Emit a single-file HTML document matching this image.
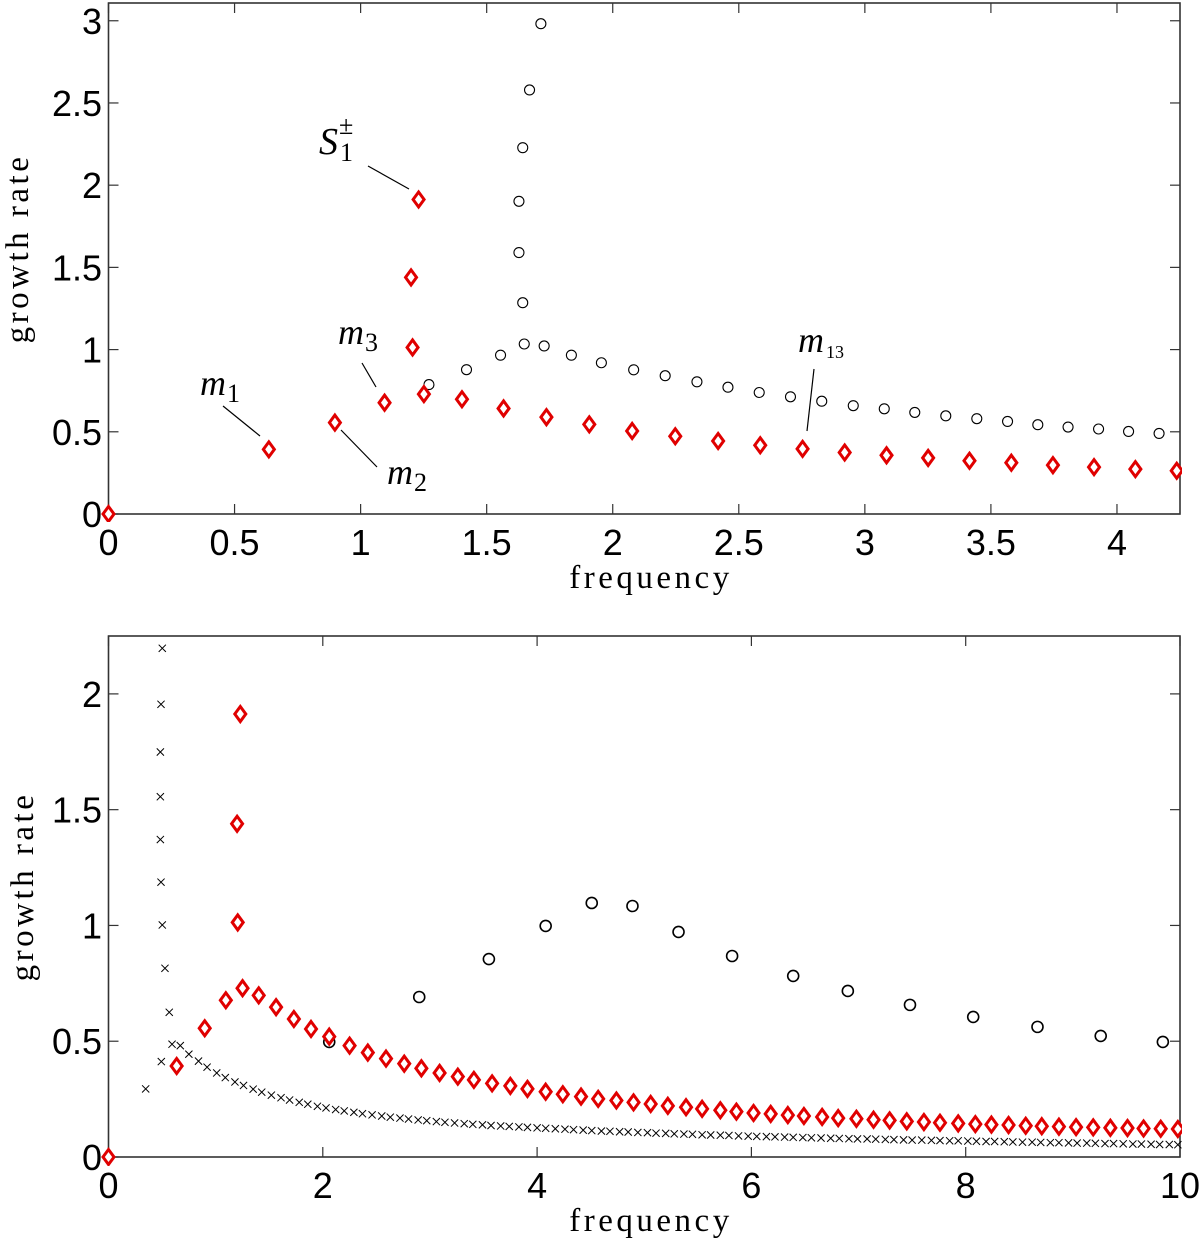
<!DOCTYPE html>
<html><head><meta charset="utf-8"><style>
html,body{margin:0;padding:0;background:#fff;}
svg{display:block;}
.tk{font-family:"Liberation Sans",sans-serif;font-size:36px;fill:#000;}
.ax{font-family:"Liberation Serif",serif;font-size:33px;fill:#000;letter-spacing:3.5px;}
.ann{font-family:"Liberation Serif",serif;font-style:italic;fill:#000;}
</style></head><body>
<svg id="fig" width="1200" height="1240" viewBox="0 0 1200 1240" xmlns="http://www.w3.org/2000/svg">
<defs>
<clipPath id="clipTop"><rect x="100" y="0" width="1082" height="522"/></clipPath>
<clipPath id="clipBot"><rect x="100" y="630" width="1082" height="536"/></clipPath>
</defs>
<g id="top"></g>
<g id="bot"></g>
</svg>
<script>
// ---------- TOP PANEL DATA ----------
const topRedF = [0,0.636,0.898,1.095,1.206,1.2,1.23,1.251,1.402,1.567,1.737,1.907,2.077,2.248,2.418,2.585,2.753,2.92,3.086,3.251,3.415,3.581,3.746,3.909,4.073,4.237];
const topRedR = [0,0.393,0.556,0.677,1.013,1.439,1.913,0.729,0.698,0.642,0.589,0.545,0.505,0.473,0.444,0.418,0.396,0.374,0.357,0.341,0.324,0.312,0.297,0.285,0.273,0.263];
const topCircF = [1.095,1.271,1.42,1.555,1.649,1.728,1.836,1.955,2.083,2.208,2.334,2.457,2.581,2.705,2.829,2.954,3.077,3.198,3.321,3.444,3.566,3.686,3.806,3.927,4.046,4.167,1.643,1.628,1.628,1.643,1.67,1.715];
const topCircR = [0.677,0.787,0.878,0.966,1.034,1.022,0.966,0.92,0.877,0.841,0.804,0.771,0.739,0.713,0.686,0.659,0.64,0.618,0.597,0.58,0.563,0.543,0.529,0.517,0.502,0.49,1.285,1.59,1.902,2.228,2.579,2.982];
const topXTicks = [0,0.5,1,1.5,2,2.5,3,3.5,4];
const topXLabels = ["0","0.5","1","1.5","2","2.5","3","3.5","4"];
const topYTicks = [0,0.5,1,1.5,2,2.5,3];
const topYLabels = ["0","0.5","1","1.5","2","2.5","3"];

// ---------- BOTTOM PANEL DATA ----------
const botRedF = [0,0.636,0.898,1.095,1.206,1.2,1.23,1.251,1.402,1.564,1.73,1.89,2.06,2.25,2.42,2.59,2.76,2.92,3.09,3.26,3.41,3.58,3.75,3.91,4.08,4.24,4.41,4.57,4.74,4.9,5.06,5.22,5.39,5.54,5.71,5.86,6.02,6.18,6.34,6.49,6.66,6.81,6.98,7.14,7.29,7.45,7.61,7.76,7.93,8.09,8.24,8.4,8.56,8.71,8.87,9.03,9.19,9.35,9.51,9.66,9.82,9.98];
const botRedR = [0,0.393,0.556,0.677,1.013,1.439,1.913,0.729,0.698,0.647,0.596,0.553,0.52,0.481,0.451,0.425,0.403,0.383,0.363,0.347,0.333,0.318,0.307,0.294,0.282,0.271,0.261,0.251,0.244,0.236,0.229,0.221,0.215,0.208,0.202,0.196,0.19,0.186,0.181,0.177,0.173,0.168,0.165,0.161,0.158,0.154,0.151,0.148,0.145,0.142,0.14,0.138,0.135,0.133,0.131,0.129,0.128,0.126,0.125,0.123,0.122,0.121];
const botCircF = [2.06,2.90,3.55,4.08,4.51,4.89,5.32,5.82,6.39,6.90,7.48,8.07,8.67,9.26,9.84];
const botCircR = [0.497,0.691,0.855,0.998,1.097,1.084,0.972,0.868,0.782,0.717,0.657,0.605,0.562,0.523,0.497];
const botCrossF = [0.347,0.493,0.502,0.49,0.484,0.484,0.484,0.49,0.502,0.527,0.567,0.593,0.67,
0.75,0.84,0.92,1.01,1.09,1.18,1.26,1.35,1.43,1.52,1.61,1.69,1.78,1.86,1.95,2.03,2.12,2.20,2.29,2.37,2.46,2.55,2.63,2.72,2.80,2.89,2.97,3.06,3.14,3.23,3.32,3.40,3.49,3.57,3.66,3.74,3.83,3.91,4.00,4.08,4.17,4.26,4.34,4.43,4.51,4.60,4.68,4.77,4.85,4.94,5.03,5.11,5.20,5.28,5.37,5.45,5.54,5.62,5.71,5.79,5.88,5.97,6.05,6.14,6.22,6.31,6.39,6.48,6.56,6.65,6.74,6.82,6.91,6.99,7.08,7.16,7.25,7.33,7.42,7.50,7.59,7.68,7.76,7.85,7.93,8.02,8.10,8.19,8.27,8.36,8.44,8.53,8.62,8.70,8.79,8.87,8.96,9.04,9.13,9.21,9.30,9.38,9.47,9.56,9.64,9.73,9.81,9.90,9.98];
const botCrossR = [0.294,0.412,2.197,1.955,1.749,1.556,1.371,1.187,1.002,0.815,0.625,0.487,0.481,
0.444,0.414,0.388,0.363,0.343,0.324,0.309,0.293,0.280,0.267,0.256,0.246,0.236,0.228,0.219,0.212,0.205,0.199,0.193,0.187,0.182,0.177,0.172,0.168,0.164,0.160,0.157,0.153,0.150,0.147,0.144,0.141,0.139,0.136,0.134,0.132,0.130,0.128,0.126,0.124,0.122,0.120,0.118,0.116,0.114,0.112,0.111,0.109,0.108,0.106,0.105,0.103,0.102,0.100,0.099,0.098,0.096,0.095,0.094,0.093,0.091,0.090,0.089,0.088,0.087,0.086,0.085,0.084,0.083,0.082,0.081,0.080,0.079,0.078,0.078,0.077,0.076,0.075,0.074,0.073,0.073,0.072,0.071,0.070,0.070,0.069,0.068,0.067,0.067,0.066,0.065,0.064,0.064,0.063,0.062,0.062,0.061,0.060,0.060,0.059,0.058,0.058,0.057,0.056,0.056,0.055,0.054,0.054,0.053];
const botXTicks = [0,2,4,6,8,10];
const botXLabels = ["0","2","4","6","8","10"];
const botYTicks = [0,0.5,1,1.5,2];
const botYLabels = ["0","0.5","1","1.5","2"];

const NS = "http://www.w3.org/2000/svg";
function mk(tag, attrs, parent){
  const e = document.createElementNS(NS, tag);
  for (const k in attrs) e.setAttribute(k, attrs[k]);
  parent.appendChild(e);
  return e;
}

function drawPanel(g, cfg){
  const L=108.5, R=1180, T=cfg.T, B=cfg.B;
  const sx = v => L + (v - cfg.xmin) / (cfg.xmax - cfg.xmin) * (R - L);
  const sy = v => B - (v - cfg.ymin) / (cfg.ymax - cfg.ymin) * (B - T);
  const frame = mk('rect', {x:L, y:T, width:R-L, height:B-T, fill:'none', stroke:'#333', 'stroke-width':1.6}, g);
  
  
  cfg.xt.forEach((v,i)=>{
    const x = sx(v);
    const t1 = mk('line', {x1:x, y1:B, x2:x, y2:B-10, stroke:'#333', 'stroke-width':1.2}, g);
    
    
    const t2 = mk('line', {x1:x, y1:T, x2:x, y2:T+10, stroke:'#333', 'stroke-width':1.2}, g);
    
    
    const lb = mk('text', {x:x, y:B+41, 'text-anchor':'middle', class:'tk'}, g);
    lb.textContent = cfg.xl[i];
    
    
  });
  cfg.yt.forEach((v,i)=>{
    const y = sy(v);
    const t1 = mk('line', {x1:L, y1:y, x2:L+10, y2:y, stroke:'#333', 'stroke-width':1.2}, g);
    
    
    const t2 = mk('line', {x1:R, y1:y, x2:R-10, y2:y, stroke:'#333', 'stroke-width':1.2}, g);
    
    
    const lb = mk('text', {x:102, y:y+13, 'text-anchor':'end', class:'tk'}, g);
    lb.textContent = cfg.yl[i];
    
    
  });
  const yl = mk('text', {x:0, y:0, 'text-anchor':'middle', class:'ax', transform:`translate(${cfg.ylx},${(T+B)/2 - 10}) rotate(-90)`}, g);
  yl.textContent = 'growth rate';
  
  
  const xl = mk('text', {x:651, y:B+74, 'text-anchor':'middle', class:'ax'}, g);
  xl.textContent = 'frequency';
  
  

  const pg = mk('g', {'clip-path':`url(#${cfg.clip})`}, g);
  
  
  if (cfg.crossF){
    cfg.crossF.forEach((f,i)=>{
      const x=sx(f), y=sy(cfg.crossR[i]), s=3.6;
      const p = mk('path', {d:`M${x-s},${y-s}L${x+s},${y+s}M${x-s},${y+s}L${x+s},${y-s}`, stroke:'#000', 'stroke-width':1, fill:'none'}, pg);
      
      
    });
  }
  cfg.circF.forEach((f,i)=>{
    const c = mk('circle', {cx:sx(f), cy:sy(cfg.circR[i]), r:cfg.cr, fill:'none', stroke:'#000', 'stroke-width':cfg.cw}, pg);
    
    
  });
  cfg.redF.forEach((f,i)=>{
    const x=sx(f), y=sy(cfg.redR[i]), w=5.5, h=7.5;
    const d = mk('path', {d:`M${x},${y-h}L${x+w},${y}L${x},${y+h}L${x-w},${y}Z`, fill:'#fff', stroke:'#e00000', 'stroke-width':3}, pg);
    
    
  });
  return {sx, sy};
}

const topG = document.getElementById('top');
drawPanel(topG, {T:3, B:514, xmin:0, xmax:4.25, ymin:0, ymax:3.108, xt:topXTicks, xl:topXLabels, yt:topYTicks, yl:topYLabels,
  redF:topRedF, redR:topRedR, circF:topCircF, circR:topCircR, cr:5, cw:1.1, clip:'clipTop', ylx:28});
const botG = document.getElementById('bot');
drawPanel(botG, {T:636, B:1157, xmin:0, xmax:10, ymin:0, ymax:2.25, xt:botXTicks, xl:botXLabels, yt:botYTicks, yl:botYLabels,
  redF:botRedF, redR:botRedR, circF:botCircF, circR:botCircR, cr:5.5, cw:1.6, crossF:botCrossF, crossR:botCrossR, clip:'clipBot', ylx:33});

// annotations (top panel)
function ann(x,y,main,sub,subSize,dx,dy,name){
  const t = mk('text', {x:x, y:y, class:'ann', 'font-size':36}, topG);
  
  
  t.textContent = main;
  const s = mk('tspan', {'font-style':'normal', 'font-size':subSize, dx:dx, dy:dy}, t);
  s.textContent = sub;
}
function leader(x1,y1,x2,y2,name){
  const l = mk('line', {x1,y1,x2,y2, stroke:'#000', 'stroke-width':1.2}, topG);
  
  
}
ann(200,395,'m','1',26,1,7,'label-m1'); leader(223,406,260,436,'leader-m1');
ann(387,484,'m','2',26,1,7,'label-m2'); leader(341,430,377,467,'leader-m2');
ann(338,344,'m','3',26,1,7,'label-m3'); leader(362,363,376,387,'leader-m3');
ann(798,352,'m','13',18,2,6,'label-m13'); leader(814,369,807,431,'leader-m13');
const st = mk('text', {x:319, y:154, class:'ann', 'font-size':38}, topG);


st.textContent = 'S';
const s1 = mk('tspan', {'font-style':'normal', 'font-size':26, dx:2, dy:7}, st); s1.textContent='1';
const s2 = mk('tspan', {'font-style':'normal', 'font-size':26, dx:-14, dy:-27}, st); s2.textContent='±';
leader(368,166,409,189,'leader-s1');
</script>
</body></html>
